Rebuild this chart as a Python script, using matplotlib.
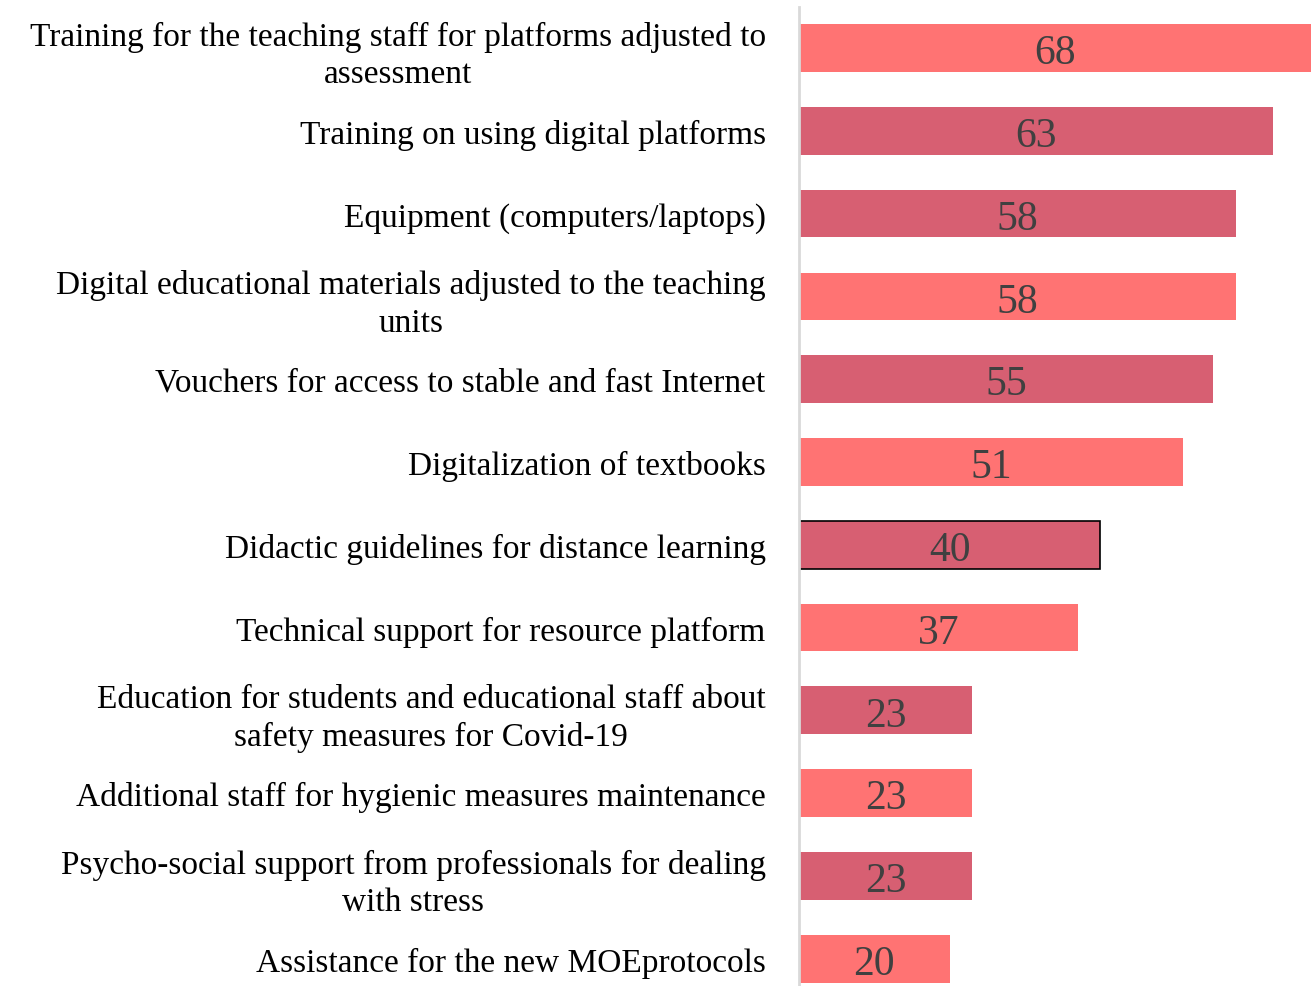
import matplotlib.pyplot as plt

# data, top to bottom as in the chart
labels = [
    "Training for the teaching staff for platforms adjusted to\nassessment",
    "Training on using digital platforms",
    "Equipment (computers/laptops)",
    "Digital educational materials adjusted to the teaching\nunits",
    "Vouchers for access to stable and fast Internet",
    "Digitalization of textbooks",
    "Didactic guidelines for distance learning",
    "Technical support for resource platform",
    "Education for students and educational staff about\nsafety measures for Covid-19",
    "Additional staff for hygienic measures maintenance",
    "Psycho-social support from professionals for dealing\nwith stress",
    "Assistance for the new MOEprotocols",
]
values = [68, 63, 58, 58, 55, 51, 40, 37, 23, 23, 23, 20]
colors = ["#FF7373", "#D75F72", "#D75F72", "#FF7373", "#D75F72", "#FF7373",
          "#D75F72", "#FF7373", "#D75F72", "#FF7373", "#D75F72", "#FF7373"]

plt.rcParams['font.family'] = ['Liberation Serif', 'DejaVu Serif']

fig = plt.figure(figsize=(13.11, 9.87), dpi=100)
ax = fig.add_axes([799 / 1311, 0.0, 512 / 1311, 979 / 987])

ypos = list(range(len(values)))
bars = ax.barh(ypos, values, height=0.576, color=colors)
bars[6].set_edgecolor("black")
bars[6].set_linewidth(1.2)

for y, v in zip(ypos, values):
    ax.text(v / 2, y + 0.06, str(v), ha="center", va="center",
            fontsize=30, color="#404040")

ax.set_xlim(0, 68)
ax.set_ylim(11.33, -0.495)

ax.set_yticks(ypos)
ax.set_yticklabels(labels, fontsize=24, multialignment="center", linespacing=1.3)
ax.tick_params(axis="y", length=0, pad=24)
ax.set_xticks([])

for s in ["top", "right", "bottom"]:
    ax.spines[s].set_visible(False)
ax.spines["left"].set_color("#d9d9d9")
ax.spines["left"].set_linewidth(2)

fig.savefig("out.png", dpi=100)
